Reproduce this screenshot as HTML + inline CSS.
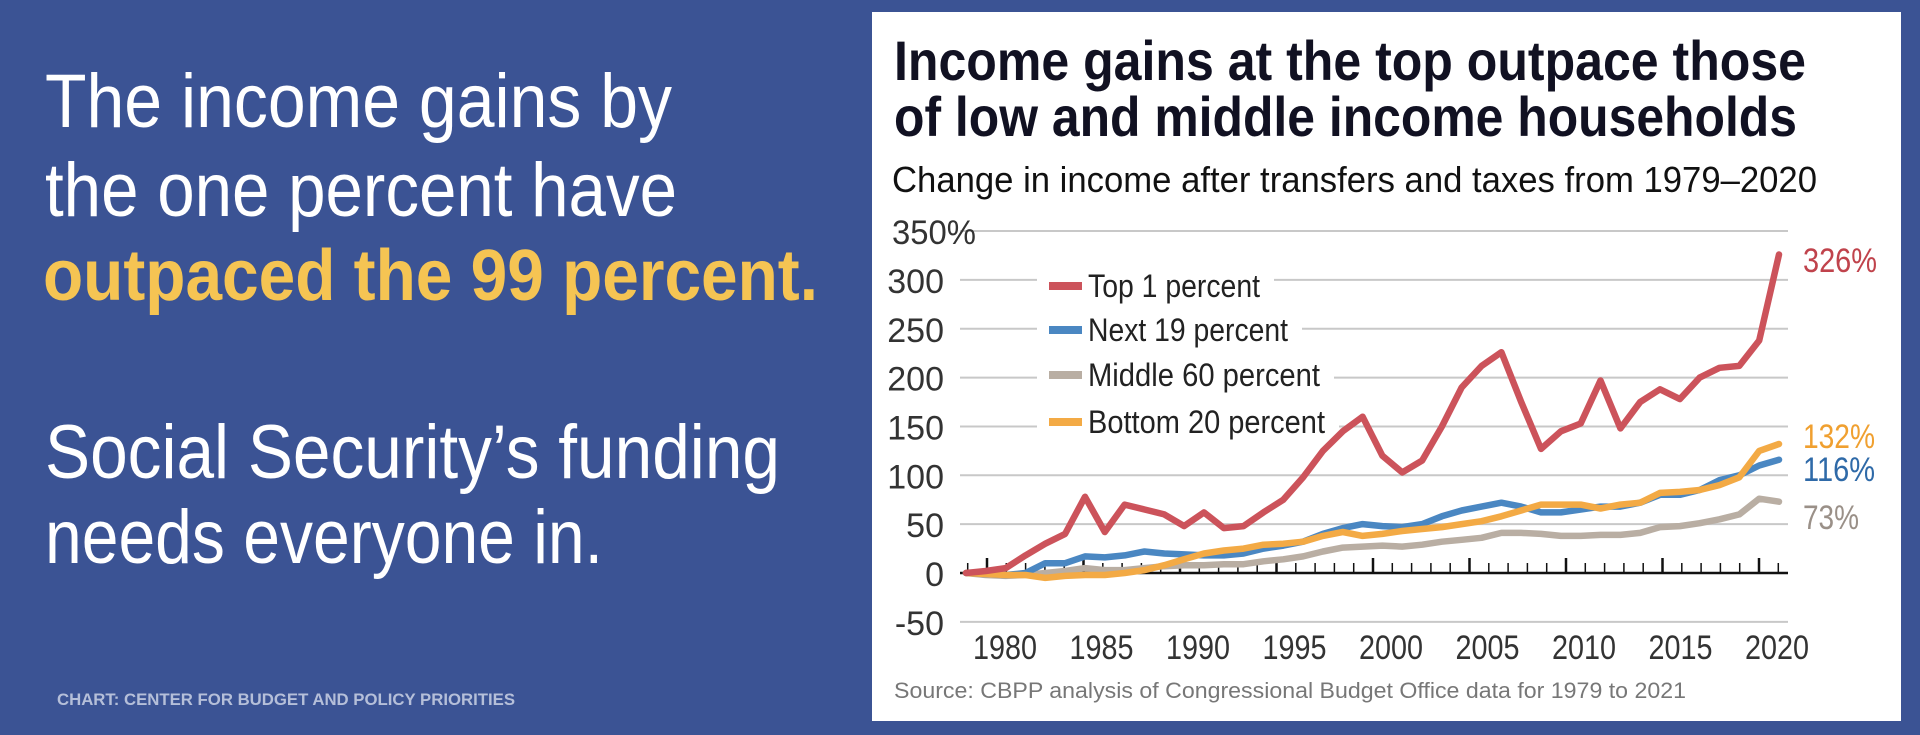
<!DOCTYPE html>
<html><head><meta charset="utf-8"><style>
html,body{margin:0;padding:0;background:#3b5394;}
svg{display:block}
</style></head><body>
<svg id="s" width="1920" height="735" xmlns="http://www.w3.org/2000/svg" font-family="Liberation Sans, sans-serif">
<rect width="1920" height="735" fill="#3b5394"/>
<g fill="#ffffff" font-size="76">
<text x="45" y="127" textLength="627" lengthAdjust="spacingAndGlyphs">The income gains by</text>
<text x="45" y="216" textLength="632" lengthAdjust="spacingAndGlyphs">the one percent have</text>
<text x="45" y="478" textLength="735" lengthAdjust="spacingAndGlyphs">Social Security’s funding</text>
<text x="45" y="563" textLength="558" lengthAdjust="spacingAndGlyphs">needs everyone in.</text>
</g>
<text x="43" y="300" fill="#f5c453" font-size="72" font-weight="bold" textLength="775" lengthAdjust="spacingAndGlyphs">outpaced the 99 percent.</text>
<text x="57" y="705" fill="#b5bfd9" font-size="17" font-weight="bold" textLength="458" lengthAdjust="spacingAndGlyphs">CHART: CENTER FOR  BUDGET AND POLICY PRIORITIES</text>

<rect x="872" y="12" width="1029" height="709" fill="#ffffff"/>
<text x="894" y="80" fill="#111122" font-size="56" font-weight="bold" textLength="912" lengthAdjust="spacingAndGlyphs">Income gains at the top outpace those</text>
<text x="894" y="136" fill="#111122" font-size="56" font-weight="bold" textLength="903" lengthAdjust="spacingAndGlyphs">of low and middle income households</text>
<text x="892" y="192" fill="#111" font-size="36" textLength="925" lengthAdjust="spacingAndGlyphs">Change in income after transfers and taxes from 1979–2020</text>
<g id="grid"></g>
<g id="legend"></g>
<g id="series"></g>
<text x="894" y="698" fill="#777" font-size="22" textLength="792" lengthAdjust="spacingAndGlyphs">Source: CBPP analysis of Congressional Budget Office data for 1979 to 2021</text>
<g font-size="34">
<text x="1803" y="272" fill="#c0434c" textLength="74" lengthAdjust="spacingAndGlyphs">326%</text>
<text x="1803" y="448" fill="#f0a030" textLength="72" lengthAdjust="spacingAndGlyphs">132%</text>
<text x="1803" y="481" fill="#2f6aa8" textLength="72" lengthAdjust="spacingAndGlyphs">116%</text>
<text x="1803" y="529" fill="#9a9088" textLength="56" lengthAdjust="spacingAndGlyphs">73%</text>
</g>
</svg>
<script>
var NS="http://www.w3.org/2000/svg";
function el(p,t,a,txt){var e=document.createElementNS(NS,t);for(var k in a)e.setAttribute(k,a[k]);if(txt!=null)e.textContent=txt;document.getElementById(p).appendChild(e);return e;}
function Y(v){return 573-v*0.977;}
for(var v=-50;v<=350;v+=50){
 if(v!==0) el("grid","line",{x1:960,x2:1788,y1:Y(v),y2:Y(v),stroke:"#c8c8c8","stroke-width":2});
 var lab=v===350?"350%":String(v);
 var a={x:v===350?892:944,y:Y(v)+13,"font-size":34,fill:"#333","text-anchor":v===350?"start":"end"};
 if(v===350){a.textLength=84;a.lengthAdjust="spacingAndGlyphs";}
 el("grid","text",a,lab);
}
el("grid","line",{x1:960,x2:1788,y1:573,y2:573,stroke:"#111","stroke-width":2.5});
for(var yr=1979;yr<=2021;yr++){
 var x=987+(yr-1980)*19.3; var maj=(yr%5===0);
 el("grid","line",{x1:x,x2:x,y1:573,y2:maj?558:563,stroke:"#111","stroke-width":maj?2.5:1.5});
}
for(var i=0;i<9;i++){
 el("grid","text",{x:1005+i*96.5,y:659,"font-size":34,fill:"#333","text-anchor":"middle",textLength:64,lengthAdjust:"spacingAndGlyphs"},String(1980+i*5));
}
var top1=[0,2,5,18,30,40,78,42,70,65,60,48,62,46,48,62,75,98,125,145,160,120,103,115,150,190,212,226,175,127,145,153,197,148,175,188,178,200,210,212,238,326];
var next19=[0,-1,-2,0,10,10,17,16,18,22,20,19,18,18,20,25,28,32,40,46,50,48,47,50,58,64,68,72,68,62,62,65,68,68,72,80,80,85,95,100,110,116];
var mid60=[0,-2,-3,-2,0,2,5,3,3,5,7,8,8,9,9,12,14,17,22,26,27,28,27,29,32,34,36,41,41,40,38,38,39,39,41,47,48,51,55,60,76,73];
var bot20=[0,-1,-2,-2,-5,-3,-2,-2,0,3,8,14,20,23,25,29,30,32,38,42,38,40,43,45,47,50,53,58,64,70,70,70,66,70,72,82,83,85,90,98,125,132];
function pts(d){var s=[];var step=(1779-966)/(d.length-1);for(var i=0;i<d.length;i++)s.push((966+i*step).toFixed(1)+","+Y(d[i]).toFixed(1));return s.join(" ");}
[[mid60,"#b9aea3"],[next19,"#4a87c2"],[bot20,"#f3aa45"],[top1,"#cc535b"]].forEach(function(s){
 el("series","polyline",{points:pts(s[0]),fill:"none",stroke:s[1],"stroke-width":6.5,"stroke-linejoin":"round","stroke-linecap":"round"});
});
var L=[["Top 1 percent","#cc535b",172],["Next 19 percent","#4a87c2",200],["Middle 60 percent","#b9aea3",232],["Bottom 20 percent","#f3aa45",237]];
L.forEach(function(l,i){
 var y=[286,330,375,422][i];
 el("legend","rect",{x:1037,y:y-20,width:l[2]+65,height:40,fill:"#fff"});
 el("legend","line",{x1:1049,x2:1082,y1:y,y2:y,stroke:l[1],"stroke-width":8});
 el("legend","text",{x:1088,y:y+11,"font-size":32,fill:"#222",textLength:l[2],lengthAdjust:"spacingAndGlyphs"},l[0]);
});
</script>
</body></html>
